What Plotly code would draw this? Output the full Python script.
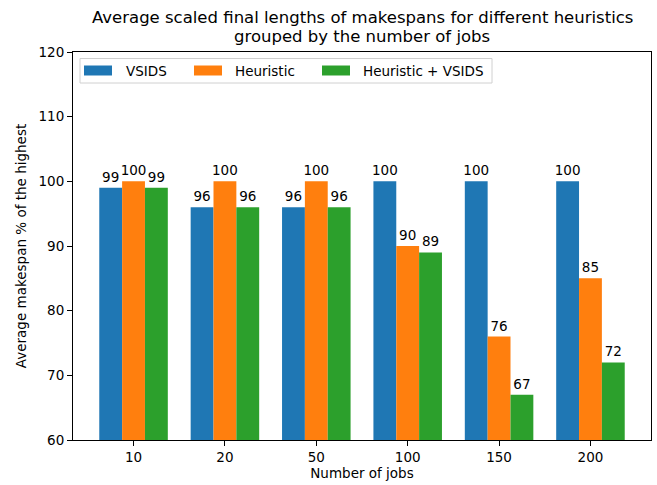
import plotly.graph_objects as go

categories = ["10", "20", "50", "100", "150", "200"]
vsids = [99, 96, 96, 100, 100, 100]
heuristic = [100, 100, 100, 90, 76, 85]
heuristic_vsids = [99, 96, 96, 89, 67, 72]
series_names = ["VSIDS", "Heuristic", "Heuristic + VSIDS"]
colors = ["#1f77b4", "#ff7f0e", "#2ca02c"]
y_ticks = [60, 70, 80, 90, 100, 110, 120]
title_lines = ["Average scaled final lengths of makespans for different heuristics",
               "grouped by the number of jobs"]

W, H = 657, 485
L, R, T, B = 73, 651, 52, 440
FONT = "DejaVu Sans"

def px(x):
    return (x - L) / (R - L)

def py(y):
    return (B - y) / (B - T)

fig = go.Figure()
xs = list(range(len(categories)))
for name, vals, col in zip(series_names, [vsids, heuristic, heuristic_vsids], colors):
    fig.add_trace(go.Bar(
        x=xs, y=vals, name=name, marker_color=col, marker_line_width=0,
        texttemplate="%{y:.0f}", textposition="outside", constraintext="none",
        cliponaxis=False, textfont=dict(family=FONT, size=13.5, color="#000000"),
        showlegend=False,
    ))

fig.update_layout(
    width=W, height=H,
    margin=dict(l=L, r=W - R, t=T, b=H - B, autoexpand=False),
    paper_bgcolor="white", plot_bgcolor="white",
    barmode="group", bargap=0.25, bargroupgap=0,
    font=dict(family=FONT, size=13.5, color="#000000"),
    xaxis=dict(range=[-0.6625, 5.6625], tickmode="array", tickvals=xs, ticktext=categories,
               showline=True, linecolor="#000000", linewidth=1, mirror=True,
               ticks="outside", ticklen=5, tickcolor="#000000", showgrid=False, zeroline=False,
               title=dict(text="Number of jobs", standoff=4, font=dict(size=13.5))),
    yaxis=dict(range=[60, 120], tickmode="array", tickvals=y_ticks,
               showline=True, linecolor="#000000", linewidth=1, mirror=True,
               ticks="outside", ticklen=5, tickcolor="#000000", showgrid=False, zeroline=False,
               title=dict(text="Average makespan % of the highest", standoff=8, font=dict(size=13.5))),
)

shapes = []
annotations = []
# title (two centred lines)
for line, yc in zip(title_lines, [17, 37]):
    annotations.append(dict(text=line, xref="paper", yref="paper", x=0.5, y=py(yc),
                            xanchor="center", yanchor="middle", showarrow=False,
                            font=dict(family=FONT, size=16.5, color="#000000")))

# custom legend (matplotlib-style)
box_l, box_r, box_t, box_b = 80, 492, 58.5, 83
shapes.append(dict(type="rect", xref="paper", yref="paper", x0=px(box_l), x1=px(box_r),
                   y0=py(box_b), y1=py(box_t),
                   line=dict(color="#d0d0d0", width=1), fillcolor="rgba(255,255,255,0.8)", layer="above"))
patch_x = [84, 194, 322]
text_x = [124, 233, 361]
for name, col, pxl, tx in zip(series_names, colors, patch_x, text_x):
    shapes.append(dict(type="rect", xref="paper", yref="paper", x0=px(pxl), x1=px(pxl + 28),
                       y0=py(75.5), y1=py(65.5), line=dict(width=0), fillcolor=col, layer="above"))
    annotations.append(dict(text=name, xref="paper", yref="paper", x=px(tx), y=py(70.5),
                            xanchor="left", yanchor="middle", showarrow=False,
                            font=dict(family=FONT, size=13.5, color="#000000")))
fig.update_layout(shapes=shapes, annotations=annotations)

fig.write_html("out.html", config={"displayModeBar": False},
               post_script="document.body.style.margin='0px';document.body.style.padding='0px';")
